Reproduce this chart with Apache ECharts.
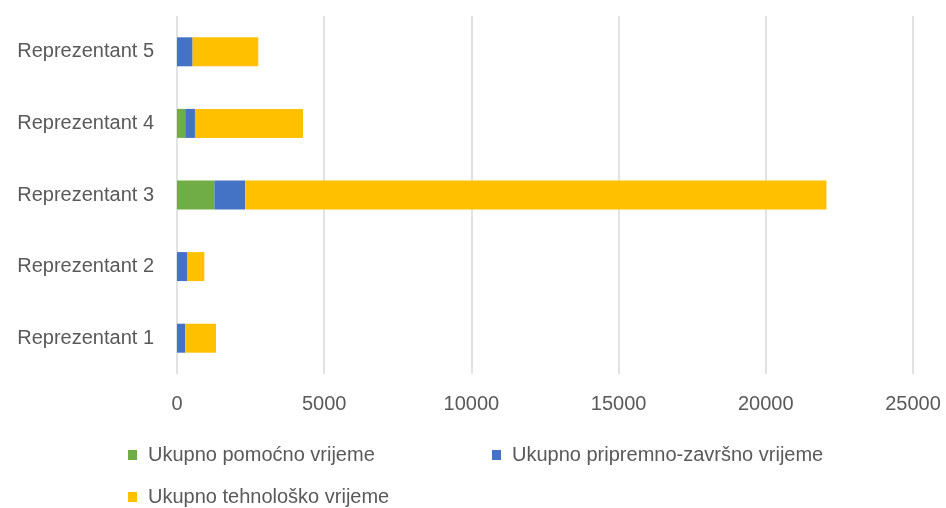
<!DOCTYPE html>
<html>
<head>
<meta charset="utf-8">
<script src="https://cdn.jsdelivr.net/npm/echarts@6/dist/echarts.min.js"></script>
<style>
  html, body { margin: 0; padding: 0; background: #fff; }
  #chart { width: 946px; height: 508px; }
</style>
</head>
<body>
<div id="chart"></div>
<script>
// podaci po reprezentantu (odozdo prema gore)
var categories = ['Reprezentant 1', 'Reprezentant 2', 'Reprezentant 3', 'Reprezentant 4', 'Reprezentant 5'];
var seriesNames = ['Ukupno pomoćno vrijeme', 'Ukupno pripremno-završno vrijeme', 'Ukupno tehnološko vrijeme'];
var pomocno = [0, 0, 1270, 280, 0];
var pripremno = [285, 340, 1050, 330, 530];
var tehnolosko = [1040, 590, 19740, 3670, 2230];
var xTicks = [0, 5000, 10000, 15000, 20000, 25000];

var colors = ['#70ad47', '#4472c4', '#ffc000'];
var txt = '#595959';
var font = 'Liberation Sans';

var chart = echarts.init(document.getElementById('chart'));

function legendFor(i, left, top) {
    return {
        data: [seriesNames[i]],
        left: left,
        top: top,
        padding: 0,
        icon: 'rect',
        itemWidth: 9,
        itemHeight: 10,
        itemGap: 0,
        textStyle: { color: txt, fontSize: 20, fontFamily: font, padding: [0, 0, 0, 6] }
    };
}

var option = {
    animation: false,
    color: colors,
    grid: { left: 177, right: 33, top: 16, bottom: 134, containLabel: false },
    legend: [
        legendFor(0, 128, 445),
        legendFor(1, 492, 445),
        legendFor(2, 128, 487)
    ],
    xAxis: {
        type: 'value',
        min: 0,
        max: 25000,
        interval: 5000,
        axisLine: { show: false },
        axisTick: { show: false },
        splitLine: { lineStyle: { color: '#d9d9d9', width: 1.5 } },
        axisLabel: {
            color: txt, fontSize: 20, fontFamily: font, margin: 20,
            formatter: function (v) { return xTicks.indexOf(v) >= 0 ? String(v) : ''; }
        }
    },
    yAxis: {
        type: 'category',
        data: categories,
        axisLine: { show: false },
        axisTick: { show: false },
        axisLabel: { color: txt, fontSize: 20, fontFamily: font, margin: 23 }
    },
    series: [
        { name: seriesNames[0], type: 'bar', stack: 'ukupno', barWidth: 29, data: pomocno },
        { name: seriesNames[1], type: 'bar', stack: 'ukupno', barWidth: 29, data: pripremno },
        { name: seriesNames[2], type: 'bar', stack: 'ukupno', barWidth: 29, data: tehnolosko }
    ]
};

chart.setOption(option);
</script>
</body>
</html>
